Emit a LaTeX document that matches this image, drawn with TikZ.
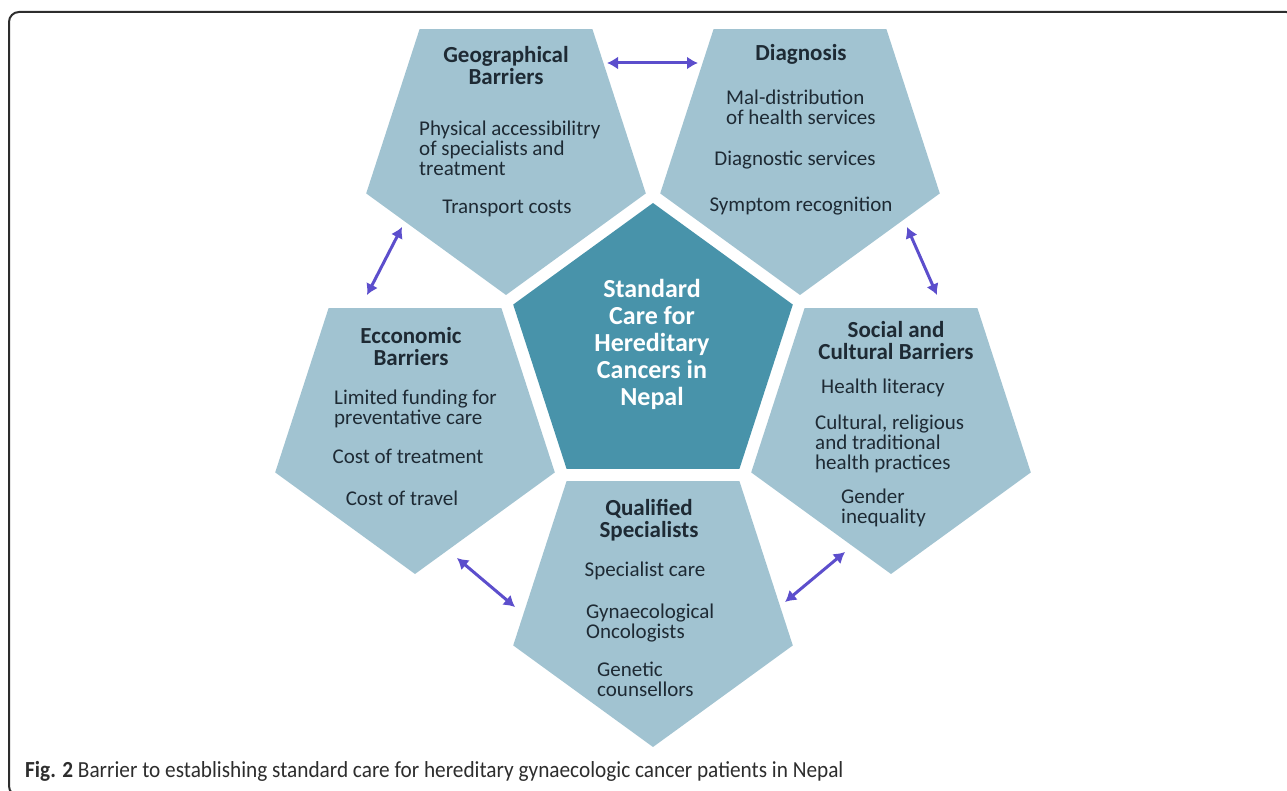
\documentclass[tikz,border=0pt]{standalone}
\usepackage{fontspec}
\setmainfont{Carlito}
\newfontfamily\capfont[FakeStretch=0.925]{Carlito}
\usetikzlibrary{shapes.geometric,arrows.meta}

\definecolor{penta}{RGB}{161,195,209}
\definecolor{core}{RGB}{72,147,170}
\definecolor{txt}{RGB}{30,42,52}
\definecolor{linkcol}{RGB}{92,78,204}
\definecolor{framecol}{RGB}{45,45,45}

\begin{document}
\begin{tikzpicture}[x=1pt,y=-1pt,
	outer/.style={regular polygon, regular polygon sides=5, shape border rotate=180,
		minimum size=294pt, inner sep=0pt, outer sep=0pt, fill=penta},
	inner/.style={outer, shape border rotate=0, fill=core},
	body/.style={inner sep=0pt, text=txt, font=\fontsize{21}{20}\selectfont},
	lblock/.style={body, anchor=west, align=left},
	cblock/.style={body, align=center},
	head/.style={body, align=center, font=\fontsize{23}{22}\selectfont\bfseries},
	arrowlink/.style={draw=linkcol, line width=3pt, {Latex[length=11pt,width=13pt]}-{Latex[length=11pt,width=13pt]}}]
		\useasboundingbox (0,0) rectangle (1287,791);
		\clip (0,0) rectangle (1287,791);
		% frame round the figure
		\draw[framecol, line width=2pt, rounded corners=10pt] (9,12) rectangle (1296,796);

		% the five barriers round the centre
		\node[inner] (centre) at (653,350) {};
		\node[outer] (geo) at (506,148) {};
		\node[outer] (diag) at (800,148) {};
		\node[outer] (econ) at (415,427) {};
		\node[outer] (social) at (891,427) {};
		\node[outer] (qual) at (653,600) {};

		\node[cblock, text=white, font=\fontsize{26}{27}\selectfont\bfseries] (centretext) at (652,344)
			{Standard\\Care for\\Hereditary\\Cancers in\\Nepal};

		% geographical
		\node[head] (geohead) at (506,66) {Geographical\\Barriers};
		\node[lblock] (geoa) at (419,148) {Physical accessibilitry\\of specialists and\\treatment};
		\node[cblock] (geob) at (507,208) {Transport costs};

		% diagnosis
		\node[head] (diaghead) at (801,54) {Diagnosis};
		\node[lblock] (diaga) at (726,107) {Mal-distribution\\of health services};
		\node[cblock] (diagb) at (795,160) {Diagnostic services};
		\node[cblock] (diagc) at (801,206) {Symptom recognition};

		% economic
		\node[head] (econhead) at (411,347) {Ecconomic\\Barriers};
		\node[lblock] (econa) at (334,409) {Limited funding for\\preventative care};
		\node[cblock] (econb) at (408,456) {Cost of treatment};
		\node[cblock] (econc) at (402,498) {Cost of travel};

		% social
		\node[head] (socialhead) at (896,341) {Social and\\Cultural Barriers};
		\node[lblock] (sociala) at (821,388) {Health literacy};
		\node[lblock] (socialb) at (815,444) {Cultural, religious\\and traditional\\health practices};
		\node[lblock] (socialc) at (841,508) {Gender\\inequality};

		% specialists
		\node[head] (qualhead) at (649,520) {Qualified\\Specialists};
		\node[cblock] (quala) at (645,571) {Specialist care};
		\node[lblock] (qualb) at (586,623) {Gynaecological\\Oncologists};
		\node[lblock] (qualc) at (597,679) {Genetic\\counsellors};

		% links between neighbouring barriers
		\coordinate (geo-r) at (607,63);
		\coordinate (diag-l) at (698,63);
		\coordinate (geo-b) at (402,227);
		\coordinate (econ-t) at (367,295);
		\coordinate (diag-b) at (907,227);
		\coordinate (social-t) at (937,295);
		\coordinate (econ-b) at (457,558);
		\coordinate (qual-l) at (515,607);
		\coordinate (qual-r) at (785,602);
		\coordinate (social-b) at (845,552);
		\draw[arrowlink] (geo-r) -- (diag-l);
		\draw[arrowlink] (geo-b) -- (econ-t);
		\draw[arrowlink] (diag-b) -- (social-t);
		\draw[arrowlink] (econ-b) -- (qual-l);
		\draw[arrowlink] (qual-r) -- (social-b);

		\node[anchor=west, inner sep=0pt, text=framecol, font=\capfont\fontsize{23}{26}\selectfont] (caption) at (25,771)
			{\textbf{Fig. 2} Barrier to establishing standard care for hereditary gynaecologic cancer patients in Nepal};
\end{tikzpicture}
\end{document}
